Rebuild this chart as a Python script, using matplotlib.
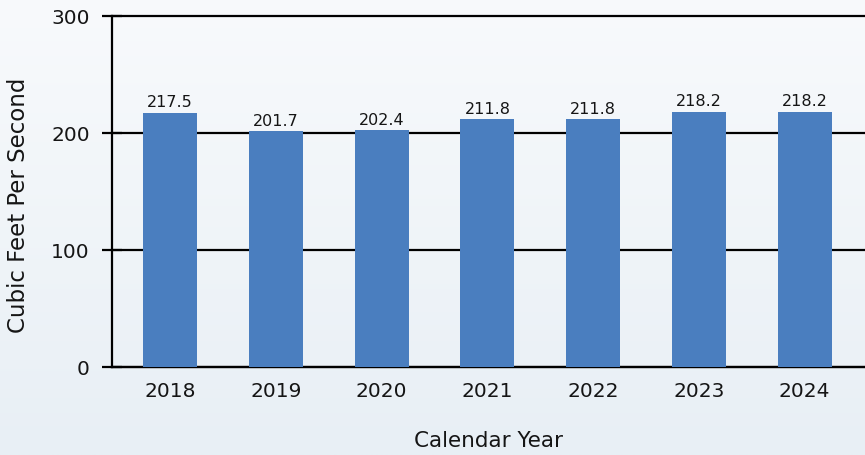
import matplotlib
matplotlib.use("Agg")
import matplotlib.pyplot as plt
import numpy as np

years = ["2018", "2019", "2020", "2021", "2022", "2023", "2024"]
values = [217.5, 201.7, 202.4, 211.8, 211.8, 218.2, 218.2]
yticks = [0, 100, 200, 300]

plt.rcParams['font.family'] = ['DejaVu Sans']
txt = '#151515'

fig = plt.figure(figsize=(8.65, 4.56), dpi=100)

# background gradient
bg = fig.add_axes([0, 0, 1, 1], zorder=-10)
top = np.array([248, 250, 252]) / 255
bot = np.array([232, 239, 245]) / 255
t = np.linspace(0, 1, 256)[:, None]
grad = top[None, :] * (1 - t) + bot[None, :] * t
bg.imshow(grad[:, None, :].repeat(2, axis=1), aspect='auto', extent=[0, 1, 0, 1])
bg.axis('off')

ax = fig.add_axes([112/865, 1 - 368/456, 1 - 112/865, (368-17)/456])
ax.patch.set_alpha(0)
x = np.arange(len(years))
ax.bar(x, values, width=0.51, color='#4a7ebf', zorder=3)
for xi, v in zip(x, values):
    ax.text(xi, v + 3, f"{v:.1f}", ha='center', va='bottom', fontsize=11.5, color=txt, zorder=4)

ax.set_ylim(0, 300)
ax.set_xlim(-0.55, 6.57)
ax.set_yticks(yticks)
ax.set_xticks(x)
ax.set_xticklabels(years)
ax.yaxis.grid(True, color='black', linewidth=1.6, zorder=1)
ax.set_axisbelow(True)
for gl in ax.get_ygridlines():
    gl.set_clip_on(False)
for s in ['top', 'right']:
    ax.spines[s].set_visible(False)
ax.spines['left'].set_linewidth(1.6)
ax.spines['bottom'].set_linewidth(1.6)
ax.tick_params(axis='y', direction='inout', length=14, width=1.6, labelsize=14.5, pad=9, labelcolor=txt)
ax.tick_params(axis='x', length=0, labelsize=14.5, pad=10, labelcolor=txt)
ax.set_ylabel("Cubic Feet Per Second", fontsize=16.5, color=txt)
ax.yaxis.set_label_coords((30-112)/753, 0.464)
ax.set_xlabel("Calendar Year", fontsize=15.5, color=txt)
ax.xaxis.set_label_coords((489-112)/753, -(431-368)/351)

fig.savefig("out.png", dpi=100)
